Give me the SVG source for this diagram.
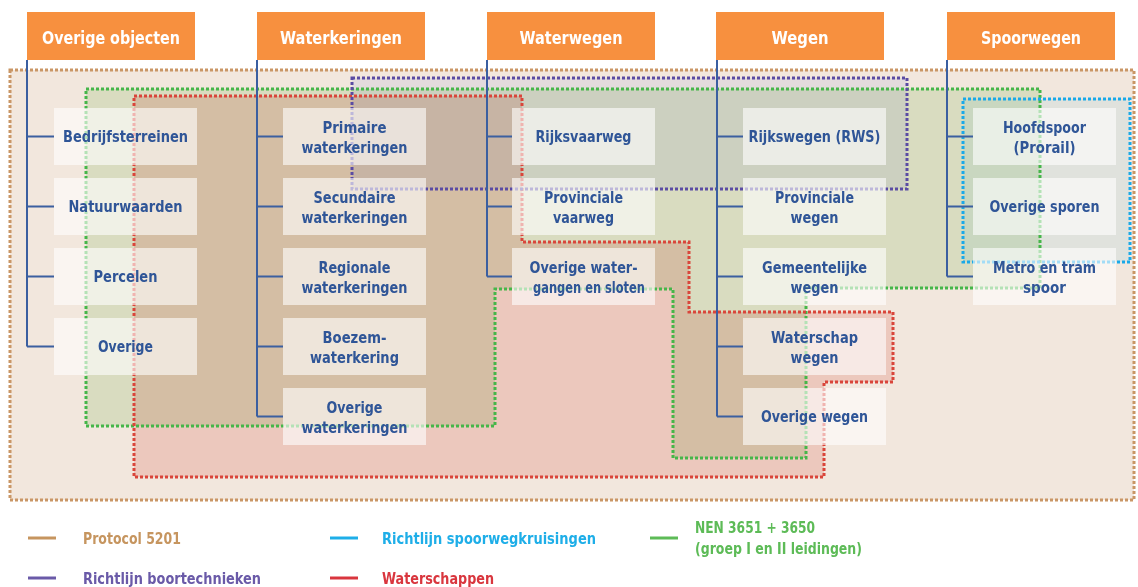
<svg xmlns="http://www.w3.org/2000/svg" width="1138" height="587" viewBox="0 0 1138 587">
<style>
.hdr{fill:#f7903f}
.ht{font-family:"DejaVu Sans Condensed","Liberation Sans Narrow","Liberation Sans",sans-serif;font-weight:bold;font-size:17px;fill:#ffffff;text-anchor:middle}
.box{fill:#ffffff;fill-opacity:0.6}
.nt{font-family:"DejaVu Sans Condensed","Liberation Sans Narrow","Liberation Sans",sans-serif;font-weight:bold;font-size:15.5px;fill:#2f5597;text-anchor:middle}
.tree{stroke:#3b5fa0;stroke-width:2;fill:none}
.bd{fill:none;stroke-width:3;stroke-dasharray:3 2}
.mf{mix-blend-mode:multiply}
.lg{font-family:"DejaVu Sans Condensed","Liberation Sans Narrow","Liberation Sans",sans-serif;font-weight:bold;font-size:15px}
.ll{stroke-width:3}
</style>
<rect width="1138" height="587" fill="#ffffff"/>
<g id="regions">
<rect id="protocol-fill" x="10" y="70" width="1124" height="430" fill="#f2e7dd"/>
<polygon id="nen-fill" class="mf" points="86,89 1040,89 1040,288 806,288 806,458 673,458 673,289 495,289 495,426 86,426" fill="rgb(229,243,222)"/>
<polygon id="ws-fill" class="mf" points="134,96 522,96 522,242 689,242 689,312 893,312 893,382 824,382 824,477 134,477" fill="rgb(249,221,218)"/>
<rect id="boor-fill" class="mf" x="352" y="78" width="555" height="111" fill="rgb(240,242,255)"/>
<rect id="spoor-fill" class="mf" x="963" y="99" width="167" height="163" fill="rgb(236,250,255)"/>
<rect class="bd" x="10" y="70" width="1124" height="430" stroke="#c99665"/>
<polygon class="bd" points="86,89 1040,89 1040,288 806,288 806,458 673,458 673,289 495,289 495,426 86,426" stroke="#45b649"/>
<polygon class="bd" points="134,96 522,96 522,242 689,242 689,312 893,312 893,382 824,382 824,477 134,477" stroke="#d9453a"/>
<rect class="bd" x="352" y="78" width="555" height="111" stroke="#5a4ba3"/>
<rect class="bd" x="963" y="99" width="167" height="163" stroke="#1aa9e8"/>
</g>
<g id="connectors">
<path class="tree" d="M27,60V346.5 M27,136.5H54 M27,206.5H54 M27,276.5H54 M27,346.5H54"/>
<path class="tree" d="M257,60V416.5 M257,136.5H283 M257,206.5H283 M257,276.5H283 M257,346.5H283 M257,416.5H283"/>
<path class="tree" d="M487,60V276.5 M487,136.5H512 M487,206.5H512 M487,276.5H512"/>
<path class="tree" d="M717,60V416.5 M717,136.5H743 M717,206.5H743 M717,276.5H743 M717,346.5H743 M717,416.5H743"/>
<path class="tree" d="M947,60V276.5 M947,136.5H973 M947,206.5H973 M947,276.5H973"/>
</g>
<g id="hdr-overige-objecten"><rect class="hdr" x="27" y="12" width="168" height="48"/><text class="ht" x="111" y="44" textLength="138" lengthAdjust="spacingAndGlyphs">Overige objecten</text></g>
<g id="hdr-waterkeringen"><rect class="hdr" x="257" y="12" width="168" height="48"/><text class="ht" x="341" y="44" textLength="122" lengthAdjust="spacingAndGlyphs">Waterkeringen</text></g>
<g id="hdr-waterwegen"><rect class="hdr" x="487" y="12" width="168" height="48"/><text class="ht" x="571" y="44" textLength="103" lengthAdjust="spacingAndGlyphs">Waterwegen</text></g>
<g id="hdr-wegen"><rect class="hdr" x="716" y="12" width="168" height="48"/><text class="ht" x="800" y="44" textLength="57" lengthAdjust="spacingAndGlyphs">Wegen</text></g>
<g id="hdr-spoorwegen"><rect class="hdr" x="947" y="12" width="168" height="48"/><text class="ht" x="1031" y="44" textLength="100" lengthAdjust="spacingAndGlyphs">Spoorwegen</text></g>

<g id="n-bedrijfsterreinen"><rect class="box" x="54" y="108" width="143" height="57"/><text class="nt" x="125.5" y="142" textLength="125" lengthAdjust="spacingAndGlyphs">Bedrijfsterreinen</text></g>
<g id="n-natuurwaarden"><rect class="box" x="54" y="178" width="143" height="57"/><text class="nt" x="125.5" y="212" textLength="114" lengthAdjust="spacingAndGlyphs">Natuurwaarden</text></g>
<g id="n-percelen"><rect class="box" x="54" y="248" width="143" height="57"/><text class="nt" x="125.5" y="282" textLength="64" lengthAdjust="spacingAndGlyphs">Percelen</text></g>
<g id="n-overige"><rect class="box" x="54" y="318" width="143" height="57"/><text class="nt" x="125.5" y="352" textLength="55" lengthAdjust="spacingAndGlyphs">Overige</text></g>

<g id="n-primaire"><rect class="box" x="283" y="108" width="143" height="57"/><text class="nt" x="354.5" y="133" textLength="64" lengthAdjust="spacingAndGlyphs">Primaire</text><text class="nt" x="354.5" y="153" textLength="106" lengthAdjust="spacingAndGlyphs">waterkeringen</text></g>
<g id="n-secundaire"><rect class="box" x="283" y="178" width="143" height="57"/><text class="nt" x="354.5" y="203" textLength="82" lengthAdjust="spacingAndGlyphs">Secundaire</text><text class="nt" x="354.5" y="223" textLength="106" lengthAdjust="spacingAndGlyphs">waterkeringen</text></g>
<g id="n-regionale"><rect class="box" x="283" y="248" width="143" height="57"/><text class="nt" x="354.5" y="273" textLength="72" lengthAdjust="spacingAndGlyphs">Regionale</text><text class="nt" x="354.5" y="293" textLength="106" lengthAdjust="spacingAndGlyphs">waterkeringen</text></g>
<g id="n-boezem"><rect class="box" x="283" y="318" width="143" height="57"/><text class="nt" x="354.5" y="343" textLength="64" lengthAdjust="spacingAndGlyphs">Boezem-</text><text class="nt" x="354.5" y="363" textLength="89" lengthAdjust="spacingAndGlyphs">waterkering</text></g>
<g id="n-overige-waterkeringen"><rect class="box" x="283" y="388" width="143" height="57"/><text class="nt" x="354.5" y="413" textLength="56" lengthAdjust="spacingAndGlyphs">Overige</text><text class="nt" x="354.5" y="433" textLength="106" lengthAdjust="spacingAndGlyphs">waterkeringen</text></g>

<g id="n-rijksvaarweg"><rect class="box" x="512" y="108" width="143" height="57"/><text class="nt" x="583.5" y="142" textLength="96" lengthAdjust="spacingAndGlyphs">Rijksvaarweg</text></g>
<g id="n-provinciale-vaarweg"><rect class="box" x="512" y="178" width="143" height="57"/><text class="nt" x="583.5" y="203" textLength="79" lengthAdjust="spacingAndGlyphs">Provinciale</text><text class="nt" x="583.5" y="223" textLength="61" lengthAdjust="spacingAndGlyphs">vaarweg</text></g>
<g id="n-overige-watergangen"><rect class="box" x="512" y="248" width="143" height="57"/><text class="nt" x="583.5" y="273" textLength="108" lengthAdjust="spacingAndGlyphs">Overige water-</text><text class="nt" x="589" y="293" textLength="112" lengthAdjust="spacingAndGlyphs">gangen en sloten</text></g>

<g id="n-rijkswegen"><rect class="box" x="743" y="108" width="143" height="57"/><text class="nt" x="814.5" y="142" textLength="132" lengthAdjust="spacingAndGlyphs">Rijkswegen (RWS)</text></g>
<g id="n-provinciale-wegen"><rect class="box" x="743" y="178" width="143" height="57"/><text class="nt" x="814.5" y="203" textLength="79" lengthAdjust="spacingAndGlyphs">Provinciale</text><text class="nt" x="814.5" y="223" textLength="48" lengthAdjust="spacingAndGlyphs">wegen</text></g>
<g id="n-gemeentelijke-wegen"><rect class="box" x="743" y="248" width="143" height="57"/><text class="nt" x="814.5" y="273" textLength="105" lengthAdjust="spacingAndGlyphs">Gemeentelijke</text><text class="nt" x="814.5" y="293" textLength="48" lengthAdjust="spacingAndGlyphs">wegen</text></g>
<g id="n-waterschap-wegen"><rect class="box" x="743" y="318" width="143" height="57"/><text class="nt" x="814.5" y="343" textLength="87" lengthAdjust="spacingAndGlyphs">Waterschap</text><text class="nt" x="814.5" y="363" textLength="48" lengthAdjust="spacingAndGlyphs">wegen</text></g>
<g id="n-overige-wegen"><rect class="box" x="743" y="388" width="143" height="57"/><text class="nt" x="814.5" y="422" textLength="107" lengthAdjust="spacingAndGlyphs">Overige wegen</text></g>

<g id="n-hoofdspoor"><rect class="box" x="973" y="108" width="143" height="57"/><text class="nt" x="1044.5" y="133" textLength="83" lengthAdjust="spacingAndGlyphs">Hoofdspoor</text><text class="nt" x="1044.5" y="153" textLength="62" lengthAdjust="spacingAndGlyphs">(Prorail)</text></g>
<g id="n-overige-sporen"><rect class="box" x="973" y="178" width="143" height="57"/><text class="nt" x="1044.5" y="212" textLength="110" lengthAdjust="spacingAndGlyphs">Overige sporen</text></g>
<g id="n-metro-tram"><rect class="box" x="973" y="248" width="143" height="57"/><text class="nt" x="1044.5" y="273" textLength="103" lengthAdjust="spacingAndGlyphs">Metro en tram</text><text class="nt" x="1044.5" y="293" textLength="43" lengthAdjust="spacingAndGlyphs">spoor</text></g>

<g id="legend">
<line class="ll" x1="28" y1="538" x2="56" y2="538" stroke="#c6955f"/>
<text class="lg" x="83" y="544" fill="#c6955f" textLength="98" lengthAdjust="spacingAndGlyphs">Protocol 5201</text>
<line class="ll" x1="330" y1="538" x2="358" y2="538" stroke="#1eaee8"/>
<text class="lg" x="382" y="544" fill="#1eaee8" textLength="214" lengthAdjust="spacingAndGlyphs">Richtlijn spoorwegkruisingen</text>
<line class="ll" x1="650" y1="538" x2="678" y2="538" stroke="#5dbb57"/>
<text class="lg" x="695" y="533" fill="#5dbb57" textLength="120" lengthAdjust="spacingAndGlyphs">NEN 3651 + 3650</text>
<text class="lg" x="695" y="554" fill="#5dbb57" textLength="167" lengthAdjust="spacingAndGlyphs">(groep I en II leidingen)</text>
<line class="ll" x1="28" y1="578" x2="56" y2="578" stroke="#6a5aa8"/>
<text class="lg" x="83" y="584" fill="#6a5aa8" textLength="178" lengthAdjust="spacingAndGlyphs">Richtlijn boortechnieken</text>
<line class="ll" x1="330" y1="578" x2="358" y2="578" stroke="#d9363e"/>
<text class="lg" x="382" y="584" fill="#d9363e" textLength="112" lengthAdjust="spacingAndGlyphs">Waterschappen</text>
</g>
</svg>
